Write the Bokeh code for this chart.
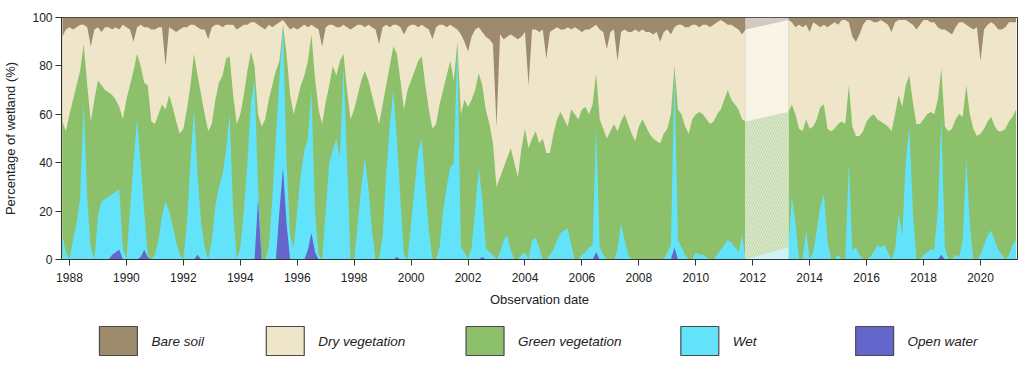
import numpy as np
from bokeh.plotting import figure
from bokeh.models import ColumnDataSource, FixedTicker, Range1d
from bokeh.layouts import column
from bokeh.embed import file_html
from bokeh.resources import INLINE
from bokeh.core.properties import value

# ---------------- data (percent of wetland) ----------------
# observation dates before the 2011-2013 data gap
dates_pre = [
    1987.750, 1987.875,
    1988.000, 1988.125, 1988.250, 1988.375, 1988.500, 1988.625, 1988.750, 1988.875,
    1989.000, 1989.125, 1989.250, 1989.375, 1989.500, 1989.625, 1989.750, 1989.875,
    1990.000, 1990.125, 1990.250, 1990.375, 1990.500, 1990.625, 1990.750, 1990.875,
    1991.000, 1991.125, 1991.250, 1991.375, 1991.500, 1991.625, 1991.750, 1991.875,
    1992.000, 1992.125, 1992.250, 1992.375, 1992.500, 1992.625, 1992.750, 1992.875,
    1993.000, 1993.125, 1993.250, 1993.375, 1993.500, 1993.625, 1993.750, 1993.875,
    1994.000, 1994.125, 1994.250, 1994.375, 1994.500, 1994.625, 1994.750, 1994.875,
    1995.000, 1995.125, 1995.250, 1995.375, 1995.500, 1995.625, 1995.750, 1995.875,
    1996.000, 1996.125, 1996.250, 1996.375, 1996.500, 1996.625, 1996.750, 1996.875,
    1997.000, 1997.125, 1997.250, 1997.375, 1997.500, 1997.625, 1997.750, 1997.875,
    1998.000, 1998.125, 1998.250, 1998.375, 1998.500, 1998.625, 1998.750, 1998.875,
    1999.000, 1999.125, 1999.250, 1999.375, 1999.500, 1999.625, 1999.750, 1999.875,
    2000.000, 2000.125, 2000.250, 2000.375, 2000.500, 2000.625, 2000.750, 2000.875,
    2001.000, 2001.125, 2001.250, 2001.375, 2001.500, 2001.625, 2001.750, 2001.875,
    2002.000, 2002.125, 2002.250, 2002.375, 2002.500, 2002.625, 2002.750, 2002.875,
    2003.000, 2003.125, 2003.250, 2003.375, 2003.500, 2003.625, 2003.750, 2003.875,
    2004.000, 2004.125, 2004.250, 2004.375, 2004.500, 2004.625, 2004.750, 2004.875,
    2005.000, 2005.125, 2005.250, 2005.375, 2005.500, 2005.625, 2005.750, 2005.875,
    2006.000, 2006.125, 2006.250, 2006.375, 2006.500, 2006.625, 2006.750, 2006.875,
    2007.000, 2007.125, 2007.250, 2007.375, 2007.500, 2007.625, 2007.750, 2007.875,
    2008.000, 2008.125, 2008.250, 2008.375, 2008.500, 2008.625, 2008.750, 2008.875,
    2009.000, 2009.125, 2009.250, 2009.375, 2009.500, 2009.625, 2009.750, 2009.875,
    2010.000, 2010.125, 2010.250, 2010.375, 2010.500, 2010.625, 2010.750, 2010.875,
    2011.000, 2011.125, 2011.250, 2011.375, 2011.500, 2011.625, 2011.750,
]
# open water share (bottom layer)
open_water_pre = [
    0, 0,
    0, 0, 0, 0, 0, 0, 0, 0,
    0, 0, 0, 0, 2, 3, 4, 0,
    0, 0, 0, 0, 1, 4, 1, 0,
    0, 0, 0, 0, 0, 0, 0, 0,
    0, 0, 0, 0, 2, 0, 0, 0,
    0, 0, 0, 0, 0, 0, 0, 0,
    0, 0, 0, 0, 0, 25, 0, 0,
    0, 0, 0, 20, 38, 15, 0, 0,
    0, 0, 0, 4, 11, 3, 0, 0,
    0, 0, 0, 0, 0, 0, 0, 0,
    0, 0, 0, 0, 0, 0, 0, 0,
    0, 0, 0, 0, 1, 0, 0, 0,
    0, 0, 0, 0, 0, 0, 0, 0,
    0, 0, 0, 0, 0, 0, 0, 0,
    0, 0, 0, 0, 1, 0, 0, 0,
    0, 0, 0, 0, 0, 0, 0, 0,
    0, 0, 0, 0, 0, 0, 0, 0,
    0, 0, 0, 0, 0, 0, 0, 0,
    0, 0, 0, 0, 3, 0, 0, 0,
    0, 0, 0, 0, 0, 0, 0, 0,
    0, 0, 0, 0, 0, 0, 0, 0,
    0, 0, 5, 0, 0, 0, 0, 0,
    0, 0, 0, 0, 0, 0, 0, 0,
    0, 0, 0, 0, 0, 0, 0,
]
# open water + wet (cumulative)
wet_cum_pre = [
    10, 3,
    0, 8, 15, 25, 65, 25, 5, 0,
    18, 24, 25, 26, 27, 28, 29, 5,
    0, 20, 40, 58, 40, 20, 2, 0,
    2, 8, 18, 24, 20, 14, 7, 2,
    0, 15, 40, 62, 35, 15, 5, 0,
    8, 22, 30, 35, 45, 60, 20, 0,
    5, 20, 40, 65, 74, 30, 0, 0,
    5, 25, 50, 75, 96, 40, 10, 5,
    20, 35, 45, 50, 70, 20, 2, 0,
    20, 40, 45, 50, 42, 80, 40, 0,
    0, 15, 30, 42, 30, 12, 0, 0,
    10, 35, 55, 70, 50, 25, 2, 0,
    15, 30, 45, 50, 30, 12, 0, 0,
    5, 20, 30, 38, 40, 88, 5, 3,
    0, 5, 20, 38, 25, 5, 3, 2,
    0, 3, 8, 10, 4, 0, 0, 2,
    3, 0, 8, 9, 5, 0, 0, 2,
    4, 8, 11, 12, 13, 6, 0, 0,
    2, 3, 5, 6, 55, 5, 2, 0,
    0, 0, 4, 15, 8, 2, 0, 0,
    0, 0, 0, 0, 0, 0, 0, 0,
    3, 6, 78, 8, 5, 2, 0, 0,
    3, 2, 2, 1, 0, 0, 2, 4,
    6, 8, 7, 5, 3, 10, 0,
]
# open water + wet + green vegetation (cumulative)
green_cum_pre = [
    57, 53,
    60, 66, 72, 78, 89, 72, 57, 66,
    74, 72, 70, 69, 68, 66, 63, 58,
    66, 72, 78, 85, 80, 73, 72, 57,
    56, 60, 64, 62, 68, 63, 57, 52,
    54, 62, 72, 85, 76, 68, 60, 53,
    56, 66, 73, 76, 83, 84, 68, 56,
    60, 68, 78, 86, 80, 60, 55, 58,
    66, 72, 78, 82, 97, 85, 68, 60,
    66, 72, 76, 82, 93, 75, 62, 56,
    65, 72, 80, 76, 82, 85, 70, 58,
    62, 68, 74, 78, 74, 68, 62, 56,
    64, 72, 80, 88, 85, 74, 62, 70,
    74, 78, 82, 84, 72, 62, 54, 56,
    64, 70, 76, 82, 74, 90, 60, 66,
    63, 66, 70, 77, 72, 62, 56, 48,
    30, 34, 38, 42, 46, 40, 34, 46,
    54, 46, 50, 53, 48, 50, 44, 44,
    52, 58, 61, 58, 55, 62, 60, 58,
    62, 63, 60, 64, 77, 58, 54, 50,
    53, 56, 53, 57, 60, 56, 52, 49,
    55, 58, 55, 52, 50, 49, 48, 52,
    54, 60, 80, 62, 60, 55, 52, 58,
    60, 61, 60, 58, 56, 57, 60, 62,
    66, 70, 66, 64, 62, 58, 57,
]
# bare soil share (top layer)
bare_soil_pre = [
    8, 5,
    4, 5, 4, 3, 3, 4, 12, 5,
    4, 6, 4, 4, 5, 4, 5, 3,
    4, 5, 10, 4, 3, 4, 4, 5,
    5, 4, 4, 20, 4, 5, 6, 5,
    4, 4, 3, 3, 4, 5, 5, 9,
    4, 3, 3, 4, 3, 3, 3, 5,
    4, 3, 3, 2, 2, 3, 4, 5,
    3, 4, 3, 2, 1, 3, 5, 4,
    5, 4, 3, 4, 3, 4, 5, 12,
    4, 3, 3, 4, 4, 3, 4, 5,
    4, 3, 3, 4, 3, 4, 5, 11,
    4, 3, 4, 3, 3, 4, 7, 4,
    3, 3, 4, 3, 4, 5, 9, 4,
    3, 3, 4, 3, 4, 5, 7, 10,
    14, 8, 5, 4, 6, 8, 9, 11,
    45, 7, 9, 8, 7, 8, 9, 8,
    6, 28, 5, 5, 6, 5, 17, 6,
    5, 4, 5, 5, 4, 5, 4, 5,
    6, 5, 5, 4, 3, 5, 6, 13,
    6, 5, 18, 6, 5, 6, 6, 5,
    6, 5, 6, 6, 7, 6, 10, 6,
    5, 7, 4, 3, 3, 4, 4, 3,
    3, 4, 3, 3, 4, 3, 2, 1,
    2, 3, 3, 4, 5, 7, 5,
]

# observation dates after the data gap
dates_post = [
    2013.250, 2013.375, 2013.500, 2013.625, 2013.750, 2013.875,
    2014.000, 2014.125, 2014.250, 2014.375, 2014.500, 2014.625, 2014.750, 2014.875,
    2015.000, 2015.125, 2015.250, 2015.375, 2015.500, 2015.625, 2015.750, 2015.875,
    2016.000, 2016.125, 2016.250, 2016.375, 2016.500, 2016.625, 2016.750, 2016.875,
    2017.000, 2017.125, 2017.250, 2017.375, 2017.500, 2017.625, 2017.750, 2017.875,
    2018.000, 2018.125, 2018.250, 2018.375, 2018.500, 2018.625, 2018.750, 2018.875,
    2019.000, 2019.125, 2019.250, 2019.375, 2019.500, 2019.625, 2019.750, 2019.875,
    2020.000, 2020.125, 2020.250, 2020.375, 2020.500, 2020.625, 2020.750, 2020.875,
    2021.000, 2021.125, 2021.250,
]
open_water_post = [
    0, 0, 0, 0, 0, 0,
    0, 0, 0, 0, 0, 0, 0, 0,
    0, 0, 0, 0, 0, 0, 0, 0,
    0, 0, 0, 0, 0, 0, 0, 0,
    0, 0, 0, 0, 0, 0, 0, 0,
    0, 0, 0, 0, 0, 2, 0, 0,
    0, 0, 0, 0, 0, 0, 0, 0,
    0, 0, 0, 0, 0, 0, 0, 0,
    0, 0, 0,
]
wet_cum_post = [
    5, 26, 15, 0, 0, 12,
    0, 3, 12, 22, 27, 8, 0, 0,
    2, 0, 0, 40, 4, 5, 2, 0,
    0, 1, 3, 6, 5, 6, 3, 0,
    4, 19, 10, 40, 55, 20, 0, 0,
    2, 3, 4, 4, 20, 58, 5, 0,
    0, 2, 1, 8, 42, 15, 0, 0,
    2, 6, 10, 12, 8, 4, 2, 0,
    2, 6, 8,
]
green_cum_post = [
    61, 64, 60, 54, 53, 58,
    54, 55, 58, 63, 64, 54, 53, 54,
    56, 57, 56, 72, 55, 51, 51, 53,
    57, 59, 60, 58, 57, 56, 55, 53,
    60, 68, 63, 72, 76, 65, 56, 56,
    58, 60, 61, 60, 66, 79, 55, 53,
    54, 58, 60, 59, 72, 60, 54, 51,
    52, 54, 57, 59, 55, 53, 53, 54,
    57, 59, 62,
]
bare_soil_post = [
    1, 2, 4, 3, 4, 3,
    6, 2, 3, 4, 3, 4, 3, 2,
    3, 1, 1, 2, 8, 10, 7, 3,
    1, 1, 2, 2, 1, 2, 3, 6,
    2, 1, 1, 1, 2, 3, 5, 3,
    1, 1, 2, 2, 4, 5, 5, 6,
    7, 4, 2, 2, 3, 4, 5, 4,
    18, 5, 3, 2, 3, 5, 5, 4,
    2, 2, 2,
]

year_ticks = [1988, 1990, 1992, 1994, 1996, 1998, 2000, 2002, 2004,
              2006, 2008, 2010, 2012, 2014, 2016, 2018, 2020]
pct_ticks = [0, 20, 40, 60, 80, 100]

classes = ["Bare soil", "Dry vegetation", "Green vegetation", "Wet", "Open water"]
colors = ["#9e8b6d", "#efe6c9", "#8cc06b", "#62e3fa", "#6566cc"]
gap_colors = ["#d2cbc2", "#f9f3e8", "#dce9cc", "#cdf3f9", "#cfd0f0"]

FONT = "Liberation Sans"


def make_source(d, ow, wc, gc, bs):
    ow = np.array(ow, float)
    wc = np.maximum(np.array(wc, float), ow)
    gc = np.maximum(np.array(gc, float), wc)
    dc = np.maximum(100.0 - np.array(bs, float), gc)
    return ColumnDataSource(dict(x=np.array(d, float), zero=np.zeros(len(d)),
                                 water=ow, wet=wc, green=gc, dry=dc,
                                 top=np.full(len(d), 100.0)))


src_pre = make_source(dates_pre, open_water_pre, wet_cum_pre, green_cum_pre, bare_soil_pre)
src_post = make_source(dates_post, open_water_post, wet_cum_post, green_cum_post, bare_soil_post)

# the data gap: straight interpolation between the last and first observation
gap = {k: [src_pre.data[k][-1], src_post.data[k][0]] for k in src_pre.data}
src_gap = ColumnDataSource(gap)

W = 1020
LB, RB = 60, 3

p = figure(width=W, height=315, output_backend="svg", toolbar_location=None,
           x_range=Range1d(1987.72, 2021.3), y_range=Range1d(0, 100),
           min_border_left=LB, min_border_right=RB, min_border_top=17, min_border_bottom=56)
p.xgrid.visible = False
p.ygrid.visible = False
p.outline_line_color = "#333333"
p.outline_line_width = 1
p.background_fill_color = "white"
p.border_fill_color = "white"

levels = ["top", "dry", "green", "wet", "water"]
for src in (src_pre, src_post):
    for lev, col in zip(levels, colors):
        p.varea(x="x", y1="zero", y2=lev, source=src, fill_color=col, fill_alpha=1.0)

for lev, col in zip(levels, gap_colors):
    if lev == "green":
        p.varea(x="x", y1="zero", y2=lev, source=src_gap, fill_color=col,
                hatch_pattern="/", hatch_color="#b9d3a4", hatch_alpha=0.9,
                hatch_scale=5, hatch_weight=1)
    elif lev == "water":
        continue
    else:
        p.varea(x="x", y1="zero", y2=lev, source=src_gap, fill_color=col)

for ax in (p.xaxis[0], p.yaxis[0]):
    ax.axis_line_color = "#333333"
    ax.major_tick_line_color = "#333333"
    ax.major_tick_out = 6
    ax.major_tick_in = 0
    ax.minor_tick_line_color = None
    ax.major_label_text_font = FONT
    ax.major_label_text_font_size = "12px"
    ax.major_label_text_color = "#222222"
    ax.axis_label_text_font = FONT
    ax.axis_label_text_font_size = "13px"
    ax.axis_label_text_font_style = "normal"
    ax.axis_label_text_color = "#222222"

p.xaxis.ticker = FixedTicker(ticks=year_ticks)
p.yaxis.ticker = FixedTicker(ticks=pct_ticks)
p.xaxis.axis_label = "Observation date"
p.yaxis.axis_label = "Percentage of wetland (%)"
p.xaxis.major_label_standoff = 7
p.xaxis.axis_label_standoff = 7
p.yaxis.major_label_standoff = 3
p.yaxis.axis_label_standoff = 11

# ---------------- legend strip (frame aligned with the chart frame) ----------------
leg = figure(width=W, height=50, output_backend="svg", toolbar_location=None,
             x_range=Range1d(LB, W - RB), y_range=Range1d(365, 315),
             min_border_left=LB, min_border_right=RB, min_border_top=0, min_border_bottom=0,
             x_axis_location=None, y_axis_location=None)
leg.outline_line_color = None
leg.xgrid.visible = False
leg.ygrid.visible = False
sw_left = [98, 265, 465, 680, 855]
leg_src = ColumnDataSource(dict(left=sw_left, right=[v + 38 for v in sw_left],
                                top=[326] * 5, bottom=[355] * 5,
                                color=colors, label=classes,
                                tx=[v + 52 for v in sw_left], ty=[341] * 5))
leg.quad(left="left", right="right", top="top", bottom="bottom", source=leg_src,
         fill_color="color", line_color="#4a4a4a", line_width=1.2)
leg.text(x="tx", y="ty", text="label", source=leg_src, text_font=value(FONT),
         text_font_size="13.5px", text_font_style="italic", text_color="#222222",
         text_baseline="middle", text_align="left")

layout = column(p, leg, spacing=0)
open("out.html", "w").write(file_html(layout, INLINE))
